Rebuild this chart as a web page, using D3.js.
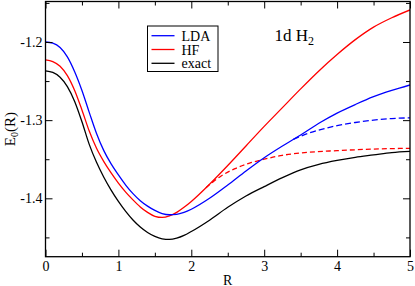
<!DOCTYPE html>
<html>
<head>
<meta charset="utf-8">
<script src="https://cdn.jsdelivr.net/npm/d3@7"></script>
<style>
    body { margin: 0; background: #fff; }
    svg { display: block; }
    text { font-family: "Liberation Serif", "Times New Roman", Times, Tinos, "DejaVu Serif", "Noto Serif", serif; fill: #000; }
</style>
</head>
<body>
<div id="chart"></div>
<script>
// R values the solid curves were read at
const rSolid = [0, 0.1, 0.2, 0.3, 0.4, 0.5, 0.6, 0.7, 0.8, 0.9, 1.0, 1.1, 1.2, 1.3, 1.4, 1.5,
    1.6, 1.7, 1.8, 1.9, 2.0, 2.25, 2.5, 2.75, 3.0, 3.25, 3.5, 3.75, 4.0, 4.25, 4.5, 4.75, 5.0];

const ldaValues = [-1.200, -1.2015, -1.207, -1.219, -1.238, -1.262, -1.290, -1.317, -1.339, -1.356,
    -1.370, -1.383, -1.394, -1.403, -1.410, -1.4155, -1.4195, -1.421, -1.4205, -1.418, -1.414,
    -1.400, -1.383, -1.365, -1.348, -1.333, -1.319, -1.304, -1.291, -1.280, -1.270, -1.262, -1.255];

const hfValues = [-1.223, -1.225, -1.231, -1.243, -1.262, -1.287, -1.314, -1.336, -1.353, -1.3675,
    -1.3805, -1.392, -1.402, -1.411, -1.418, -1.423, -1.4245, -1.4225, -1.418, -1.4115, -1.404,
    -1.382, -1.358, -1.333, -1.308, -1.284, -1.260, -1.237, -1.216, -1.197, -1.181, -1.169, -1.159];

const exactValues = [-1.237, -1.239, -1.245, -1.257, -1.276, -1.302, -1.331, -1.354, -1.373, -1.3895,
    -1.404, -1.4168, -1.4278, -1.4368, -1.4438, -1.4488, -1.4518, -1.4526, -1.451, -1.4475, -1.4425,
    -1.428, -1.4115, -1.397, -1.385, -1.3735, -1.3635, -1.3565, -1.3515, -1.3475, -1.3445, -1.3415, -1.340];

// dashed branches
const rLdaDash = [3.4, 3.6, 3.8, 4.0, 4.25, 4.5, 4.75, 5.0];
const ldaDashValues = [-1.3245, -1.317, -1.3115, -1.307, -1.303, -1.300, -1.298, -1.297];

const rHfDash = [2.2, 2.4, 2.6, 2.8, 3.0, 3.25, 3.5, 4.0, 4.5, 5.0];
const hfDashValues = [-1.3865, -1.372, -1.362, -1.355, -1.350, -1.345, -1.342, -1.339, -1.337, -1.336];

const legendNames = ["LDA", "HF", "exact"];
const legendColors = ["#0000ff", "#ff0000", "#000000"];

const xTicks = [0, 1, 2, 3, 4, 5];
const xMinorTicks = [0.5, 1.5, 2.5, 3.5, 4.5];
const yTicks = [-1.4, -1.3, -1.2];
const yMinorTicks = [-1.45, -1.35, -1.25, -1.15];

const width = 415, height = 286;
const margin = {top: 1.5, right: 5, bottom: 29.3, left: 45.5};
const innerW = width - margin.left - margin.right;
const innerH = height - margin.top - margin.bottom;

const svg = d3.select("#chart")
    .append("svg")
    .attr("width", width)
    .attr("height", height)
    .attr("viewBox", `0 0 ${width} ${height}`);

const x = d3.scaleLinear().domain([0, 5]).range([0, innerW]);
const y = d3.scaleLinear().domain([-1.4747, -1.1482]).range([innerH, 0]);

const g = svg.append("g")
    .attr("transform", `translate(${margin.left},${margin.top})`);

g.append("clipPath")
    .attr("id", "plot-clip")
    .append("rect")
    .attr("width", innerW)
    .attr("height", innerH);

function zip(rs, vs) {
    return rs.map((r, i) => ({r: r, v: vs[i]}));
}

const line = d3.line()
    .x(d => x(d.r))
    .y(d => y(d.v))
    .curve(d3.curveMonotoneX);

const series = [
    {data: zip(rSolid, exactValues), color: "#000000", dash: null},
    {data: zip(rHfDash, hfDashValues), color: "#ff0000", dash: "5,3"},
    {data: zip(rLdaDash, ldaDashValues), color: "#0000ff", dash: "6,3"},
    {data: zip(rSolid, hfValues), color: "#ff0000", dash: null},
    {data: zip(rSolid, ldaValues), color: "#0000ff", dash: null}
];

g.append("g")
    .attr("clip-path", "url(#plot-clip)")
    .selectAll("path")
    .data(series)
    .join("path")
    .attr("fill", "none")
    .attr("stroke", d => d.color)
    .attr("stroke-width", 1.3)
    .attr("stroke-dasharray", d => d.dash)
    .attr("d", d => line(d.data));

// axes: ticks point inwards on all four sides
function styleAxis(sel) {
    sel.select(".domain").remove();
    sel.attr("font-family", null);
    sel.selectAll(".tick line").attr("stroke", "#000").attr("stroke-width", 1);
    sel.selectAll("text").attr("font-size", 14);
}

const fmtY = d => d3.format(".1f")(d).replace("−", "-");

g.append("g")
    .attr("transform", `translate(0,${innerH})`)
    .call(d3.axisBottom(x).tickValues(xTicks).tickSize(-7).tickPadding(4.5).tickFormat(d3.format("d")))
    .call(styleAxis);
g.append("g")
    .attr("transform", `translate(0,${innerH})`)
    .call(d3.axisBottom(x).tickValues(xMinorTicks).tickSize(-4).tickFormat(""))
    .call(styleAxis);
g.append("g")
    .call(d3.axisTop(x).tickValues(xTicks).tickSize(-7).tickFormat(""))
    .call(styleAxis);
g.append("g")
    .call(d3.axisTop(x).tickValues(xMinorTicks).tickSize(-4).tickFormat(""))
    .call(styleAxis);

g.append("g")
    .call(d3.axisLeft(y).tickValues(yTicks).tickSize(-7).tickPadding(3).tickFormat(fmtY))
    .call(styleAxis);
g.append("g")
    .call(d3.axisLeft(y).tickValues(yMinorTicks).tickSize(-4).tickFormat(""))
    .call(styleAxis);
g.append("g")
    .attr("transform", `translate(${innerW},0)`)
    .call(d3.axisRight(y).tickValues(yTicks).tickSize(-7).tickFormat(""))
    .call(styleAxis);
g.append("g")
    .attr("transform", `translate(${innerW},0)`)
    .call(d3.axisRight(y).tickValues(yMinorTicks).tickSize(-4).tickFormat(""))
    .call(styleAxis);

// frame
g.append("rect")
    .attr("width", innerW)
    .attr("height", innerH)
    .attr("fill", "none")
    .attr("stroke", "#000")
    .attr("stroke-width", 1.3);

// axis titles
svg.append("text")
    .attr("x", margin.left + innerW / 2)
    .attr("y", 284.5)
    .attr("text-anchor", "middle")
    .attr("font-size", 14)
    .text("R");

const yTitle = svg.append("text")
    .attr("transform", `translate(14.5,${margin.top + innerH / 2}) rotate(-90)`)
    .attr("text-anchor", "middle")
    .attr("font-size", 15);
yTitle.append("tspan").text("E");
yTitle.append("tspan").attr("font-size", 10).attr("dy", 3).text("0");
yTitle.append("tspan").attr("dy", -3).text("(R)");

// title
const title = svg.append("text")
    .attr("x", 274.5)
    .attr("y", 40.7)
    .attr("font-size", 17);
title.append("tspan").text("1d H");
title.append("tspan").attr("font-size", 12).attr("dy", 4).text("2");

// legend
const legend = svg.append("g");
legend.append("rect")
    .attr("x", 147.5)
    .attr("y", 26)
    .attr("width", 70.5)
    .attr("height", 45.5)
    .attr("fill", "#fff")
    .attr("stroke", "#000")
    .attr("stroke-width", 1);

const entries = legend.selectAll("g.entry")
    .data(legendNames)
    .join("g")
    .attr("class", "entry")
    .attr("transform", (d, i) => `translate(0,${35.7 + i * 13.8})`);
entries.append("line")
    .attr("x1", 151.5)
    .attr("x2", 174.5)
    .attr("stroke", (d, i) => legendColors[i])
    .attr("stroke-width", 1.3);
entries.append("text")
    .attr("x", 181.5)
    .attr("y", 5)
    .attr("font-size", 14)
    .text(d => d);
</script>
</body>
</html>
